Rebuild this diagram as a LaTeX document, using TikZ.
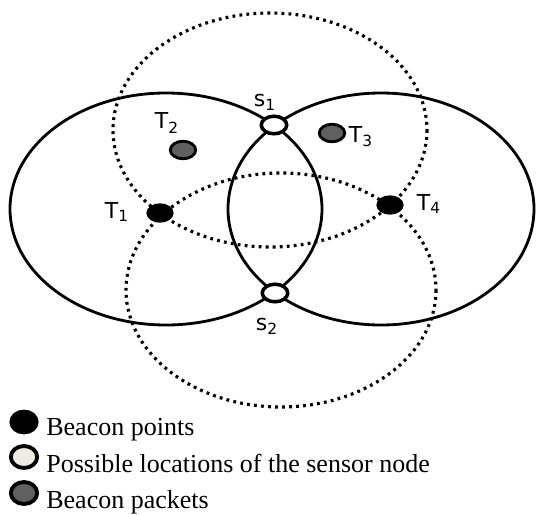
\documentclass[tikz,border=0pt]{standalone}
\usepackage{fontspec}
\setmainfont{Liberation Serif}
\newfontfamily\labelfont{DejaVu Sans}
\usepackage{xcolor}
\usetikzlibrary{shapes.geometric, positioning}
\definecolor{locfill}{RGB}{238,236,226}
\definecolor{pktgray}{RGB}{96,96,96}

\begin{document}
\begin{tikzpicture}[x=0.02cm, y=-0.02cm,
    coverline/.style={line width=1.6pt, draw=black},
    dotline/.style={line width=1.8pt, draw=black, dash pattern=on 1.6pt off 2.4pt},
    beacon/.style={ellipse, draw=black, fill=black, line width=1pt, minimum width=14.5pt, minimum height=10pt, inner sep=0pt},
    packet/.style={ellipse, draw=black, fill=pktgray, line width=1.6pt, minimum width=14.5pt, minimum height=10pt, inner sep=0pt},
    spot/.style={ellipse, draw=black, fill=white, line width=2pt, minimum width=14.5pt, minimum height=10pt, inner sep=0pt},
    lbl/.style={font=\labelfont\fontsize{12.5}{12.5}\selectfont, inner sep=0pt},
    legtext/.style={anchor=base west, font=\fontsize{14.8}{17}\selectfont, inner sep=0pt}
]
\useasboundingbox (0,0) rectangle (537,514);
% coverage areas
\draw [coverline] (166,209) ellipse [x radius=156, y radius=116];
\draw [coverline] (381,209) ellipse [x radius=153, y radius=116];
\draw [dotline] (270,130) ellipse [x radius=157, y radius=117];
\draw [dotline] (281,290) ellipse [x radius=155, y radius=117];
% points
\node (t1) [beacon] at (160,213) {};
\node (t4) [beacon] at (390,205) {};
\node (t2) [packet] at (183,150) {};
\node (t3) [packet] at (332,133) {};
\node (s1) [spot] at (274,125) {};
\node (s2) [spot] at (275,293) {};
\node (t1l) [lbl] at (117,212) {T\textsubscript{1}};
\node (t2l) [lbl] at (167,123) {T\textsubscript{2}};
\node (t3l) [lbl] at (361,137) {T\textsubscript{3}};
\node (t4l) [lbl] at (429,204) {T\textsubscript{4}};
\node (s1l) [lbl] at (265,102) {s\textsubscript{1}};
\node (s2l) [lbl] at (267,326) {s\textsubscript{2}};
% legend
\node (k1) [beacon, line width=1.6pt, minimum width=15pt, minimum height=12.5pt] at (24,422) {};
\node (k2) [spot, fill=locfill, line width=2.2pt, minimum width=15pt, minimum height=12.5pt] at (24,457) {};
\node (k3) [packet, line width=2.2pt, minimum width=15pt, minimum height=12.5pt] at (24,493) {};
\node (k1t) [legtext] at (46,435) {Beacon points};
\node (k2t) [legtext] at (46,472) {Possible locations of the sensor node};
\node (k3t) [legtext] at (46,508) {Beacon packets};
\end{tikzpicture}
\end{document}
